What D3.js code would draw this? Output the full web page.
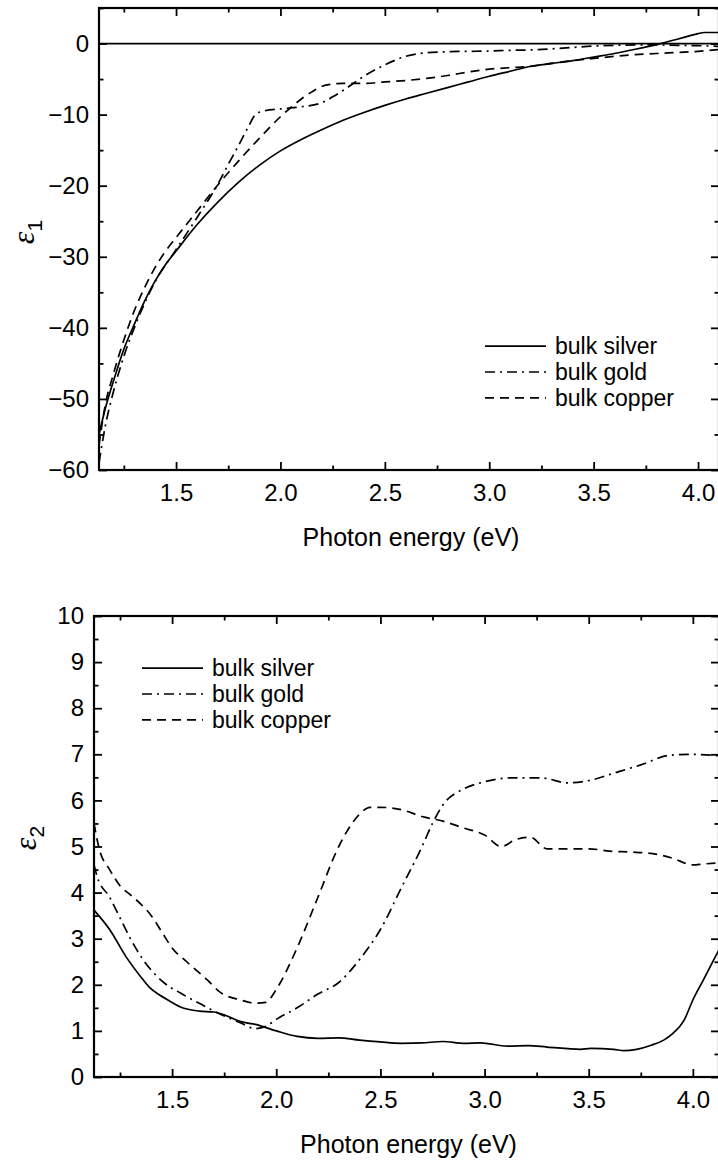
<!DOCTYPE html>
<html><head><meta charset="utf-8">
<script src="https://cdn.jsdelivr.net/npm/d3@7"></script>
<style>
body{margin:0;background:#fff}
svg{display:block}
text{font-family:"Liberation Sans",Arial,sans-serif;fill:#000}
</style>
</head><body>
<svg id="c" width="718" height="1160"></svg>
<script>
// ---- data ----
const seriesNames = ["bulk silver", "bulk gold", "bulk copper"];
const xTicksMajor = [1.5, 2.0, 2.5, 3.0, 3.5, 4.0];
const xTicksMinor = [1.25, 1.75, 2.25, 2.75, 3.25, 3.75];
const eps1TicksMajor = [0, -10, -20, -30, -40, -50, -60];
const eps1TicksMinor = [5, -5, -15, -25, -35, -45, -55];
const eps2TicksMajor = [0, 1, 2, 3, 4, 5, 6, 7, 8, 9, 10];
const eps2TicksMinor = [0.5, 1.5, 2.5, 3.5, 4.5, 5.5, 6.5, 7.5, 8.5, 9.5];

const silverEps1 = [[1.131,-55],[1.16,-51.5],[1.2,-47.5],[1.25,-43],[1.3,-39.5],[1.35,-36.2],[1.4,-33.4],[1.45,-31.1],[1.5,-29.2],[1.6,-25.5],[1.7,-22.3],[1.8,-19.5],[1.9,-17.1],[2.0,-15.1],[2.1,-13.5],[2.2,-12.1],[2.3,-10.8],[2.4,-9.7],[2.5,-8.7],[2.6,-7.8],[2.7,-7.0],[2.8,-6.2],[2.9,-5.4],[3.0,-4.6],[3.1,-3.9],[3.2,-3.2],[3.3,-2.8],[3.4,-2.4],[3.5,-1.9],[3.6,-1.4],[3.7,-0.8],[3.8,-0.15],[3.9,0.6],[3.95,1.0],[4.0,1.4],[4.03,1.55],[4.1,1.55]];
const goldEps1 = [[1.131,-59],[1.16,-54],[1.2,-49],[1.25,-44],[1.3,-40],[1.35,-36.5],[1.4,-33.5],[1.5,-29],[1.6,-24.5],[1.7,-19.8],[1.75,-17],[1.8,-14.3],[1.85,-11.5],[1.88,-10],[1.92,-9.5],[2.0,-9.2],[2.1,-8.9],[2.2,-8.3],[2.25,-7.5],[2.3,-6.6],[2.4,-4.6],[2.5,-3.0],[2.6,-1.8],[2.7,-1.3],[2.8,-1.15],[2.9,-1.1],[3.0,-1.05],[3.1,-0.95],[3.2,-0.9],[3.3,-0.75],[3.4,-0.55],[3.5,-0.35],[3.6,-0.25],[3.7,-0.2],[3.8,-0.2],[3.9,-0.25],[4.0,-0.3],[4.1,-0.4]];
const copperEps1 = [[1.131,-56.5],[1.16,-51],[1.2,-46.5],[1.25,-41.7],[1.3,-37.6],[1.35,-34.3],[1.4,-31.5],[1.45,-29.2],[1.5,-27.3],[1.6,-23.6],[1.7,-19.9],[1.8,-16.5],[1.9,-13.3],[2.0,-10.3],[2.05,-9.0],[2.1,-7.8],[2.15,-6.8],[2.2,-6.0],[2.25,-5.7],[2.3,-5.6],[2.4,-5.6],[2.5,-5.4],[2.6,-5.2],[2.7,-4.9],[2.8,-4.5],[2.9,-4.0],[3.0,-3.6],[3.1,-3.4],[3.2,-3.2],[3.3,-2.8],[3.4,-2.4],[3.5,-2.1],[3.6,-1.8],[3.7,-1.55],[3.8,-1.4],[3.9,-1.25],[4.0,-1.1],[4.1,-0.85]];

const silverEps2 = [[1.125,3.62],[1.2,3.2],[1.28,2.6],[1.35,2.17],[1.39,1.95],[1.44,1.78],[1.48,1.67],[1.54,1.52],[1.63,1.43],[1.7,1.41],[1.76,1.33],[1.83,1.2],[1.9,1.14],[2.0,1.0],[2.1,0.88],[2.2,0.84],[2.3,0.85],[2.4,0.8],[2.5,0.76],[2.6,0.73],[2.7,0.74],[2.8,0.77],[2.9,0.73],[2.98,0.74],[3.11,0.67],[3.21,0.68],[3.3,0.65],[3.46,0.6],[3.51,0.62],[3.62,0.6],[3.67,0.57],[3.73,0.6],[3.8,0.69],[3.86,0.8],[3.9,0.93],[3.96,1.25],[4.0,1.67],[4.05,2.1],[4.1,2.54],[4.14,2.88]];
const goldEps2 = [[1.125,4.6],[1.14,4.35],[1.2,3.9],[1.25,3.45],[1.3,3.0],[1.36,2.55],[1.46,2.05],[1.54,1.82],[1.63,1.6],[1.72,1.39],[1.83,1.17],[1.9,1.05],[1.95,1.1],[2.0,1.25],[2.1,1.5],[2.2,1.8],[2.3,2.05],[2.4,2.55],[2.5,3.2],[2.6,4.1],[2.7,5.0],[2.75,5.5],[2.8,5.9],[2.9,6.25],[2.98,6.38],[3.14,6.49],[3.27,6.49],[3.4,6.38],[3.51,6.44],[3.62,6.59],[3.75,6.77],[3.89,6.98],[3.99,7.0],[4.14,6.96]];
const copperEps2 = [[1.125,5.5],[1.15,4.95],[1.2,4.5],[1.25,4.15],[1.3,3.95],[1.35,3.75],[1.4,3.5],[1.45,3.15],[1.5,2.8],[1.57,2.5],[1.67,2.1],[1.73,1.84],[1.83,1.67],[1.9,1.6],[1.95,1.62],[2.0,1.9],[2.1,2.8],[2.2,3.9],[2.3,5.0],[2.4,5.7],[2.45,5.85],[2.5,5.85],[2.6,5.8],[2.7,5.65],[2.8,5.55],[2.9,5.4],[3.0,5.25],[3.08,5.0],[3.15,5.15],[3.22,5.2],[3.3,4.95],[3.4,4.95],[3.5,4.95],[3.6,4.9],[3.7,4.88],[3.8,4.85],[3.9,4.75],[4.0,4.6],[4.05,4.62],[4.14,4.65]];

// ---- drawing ----
const svg = d3.select("#c");
const dashes = [null, "10,5,2,5", "9,6"];

function panel(cfg) {
  const x = d3.scaleLinear().domain(cfg.xDomain).range([cfg.left, cfg.right]);
  const y = d3.scaleLinear().domain(cfg.yDomain).range([cfg.bottom, cfg.top]);
  const g = svg.append("g");
  const clipId = "clip" + cfg.id;
  svg.append("clipPath").attr("id", clipId).append("rect")
    .attr("x", cfg.left).attr("y", cfg.top)
    .attr("width", cfg.right - cfg.left).attr("height", cfg.bottom - cfg.top);

  const line = d3.line().x(d => x(d[0])).y(d => y(d[1])).curve(d3.curveMonotoneX);
  const lg = g.append("g").attr("clip-path", `url(#${clipId})`);
  if (cfg.zeroLine) {
    lg.append("line").attr("x1", cfg.left).attr("x2", cfg.right)
      .attr("y1", y(0)).attr("y2", y(0)).attr("stroke", "#000").attr("stroke-width", 1.8);
  }
  cfg.series.forEach((s, i) => {
    lg.append("path").attr("d", line(s)).attr("fill", "none")
      .attr("stroke", "#000").attr("stroke-width", 1.7)
      .attr("stroke-dasharray", dashes[i]);
  });

  // axes
  const fs = 24;
  function ax(gen, tr, major, minor, labels, pad) {
    const a = g.append("g").attr("transform", tr)
      .call(gen(major).tickSize(-8).tickSizeOuter(0).tickPadding(pad)
        .tickFormat(labels ? cfg.fmt[labels] : () => ""));
    a.select(".domain").remove();
    a.selectAll("line").attr("stroke-width", 1.8);
    a.selectAll("text").attr("font-size", fs).attr("font-family", '"Liberation Sans",Arial,sans-serif');
    const b = g.append("g").attr("transform", tr)
      .call(gen(minor).tickSize(-4.5).tickSizeOuter(0).tickFormat(() => ""));
    b.select(".domain").remove();
    b.selectAll("line").attr("stroke-width", 1.8);
  }
  ax(v => d3.axisBottom(x).tickValues(v), `translate(0,${cfg.bottom})`, xTicksMajor, xTicksMinor, "x", 14);
  ax(v => d3.axisTop(x).tickValues(v), `translate(0,${cfg.top})`, xTicksMajor, xTicksMinor, null, 0);
  ax(v => d3.axisLeft(y).tickValues(v), `translate(${cfg.left},0)`, cfg.yMajor, cfg.yMinor, "y", 10);
  ax(v => d3.axisRight(y).tickValues(v), `translate(${cfg.right},0)`, cfg.yMajor, cfg.yMinor, null, 0);

  g.append("rect").attr("x", cfg.left).attr("y", cfg.top)
    .attr("width", cfg.right - cfg.left).attr("height", cfg.bottom - cfg.top)
    .attr("fill", "none").attr("stroke", "#000").attr("stroke-width", 2.2);

  // axis titles
  g.append("text").attr("x", (cfg.left + 719) / 2 + 2).attr("y", cfg.bottom + 76)
    .attr("text-anchor", "middle").attr("font-size", 25).text("Photon energy (eV)");
  const yl = g.append("text").attr("transform", `translate(${cfg.ylx},${cfg.yly}) rotate(-90)`)
    .attr("text-anchor", "middle").attr("font-size", 32);
  yl.append("tspan").attr("font-family", '"Liberation Serif","DejaVu Serif",serif')
    .attr("font-style", "italic").text("\u03B5");
  yl.append("tspan").attr("font-size", 21).attr("dy", 8).text(cfg.sub);

  // legend
  const leg = g.append("g");
  seriesNames.forEach((n, i) => {
    const ly = cfg.legY + (i - 1) * 25.8;
    leg.append("line").attr("x1", cfg.legX).attr("x2", cfg.legX + 61)
      .attr("y1", ly).attr("y2", ly).attr("stroke", "#000").attr("stroke-width", 1.7)
      .attr("stroke-dasharray", dashes[i]);
    leg.append("text").attr("x", cfg.legX + 70).attr("y", ly + 8)
      .attr("font-size", 23).text(n);
  });
}

const fmtX = d3.format(".1f");
panel({
  id: 1, left: 99, right: 719, top: 8, bottom: 470,
  xDomain: [1.131, 1.131 + 620 / 208.8], yDomain: [-60, 5],
  yMajor: eps1TicksMajor, yMinor: eps1TicksMinor,
  fmt: { x: fmtX, y: d3.format("d") },
  series: [silverEps1, goldEps1, copperEps1], zeroLine: true,
  sub: "1", ylx: 34, yly: 232, legX: 485, legY: 372
});
panel({
  id: 2, left: 94, right: 719, top: 616, bottom: 1077,
  xDomain: [1.125, 1.125 + 625 / 208.3], yDomain: [0, 10],
  yMajor: eps2TicksMajor, yMinor: eps2TicksMinor,
  fmt: { x: fmtX, y: d3.format("d") },
  series: [silverEps2, goldEps2, copperEps2], zeroLine: false,
  sub: "2", ylx: 36, yly: 838, legX: 142, legY: 694
});
</script>
</body></html>
